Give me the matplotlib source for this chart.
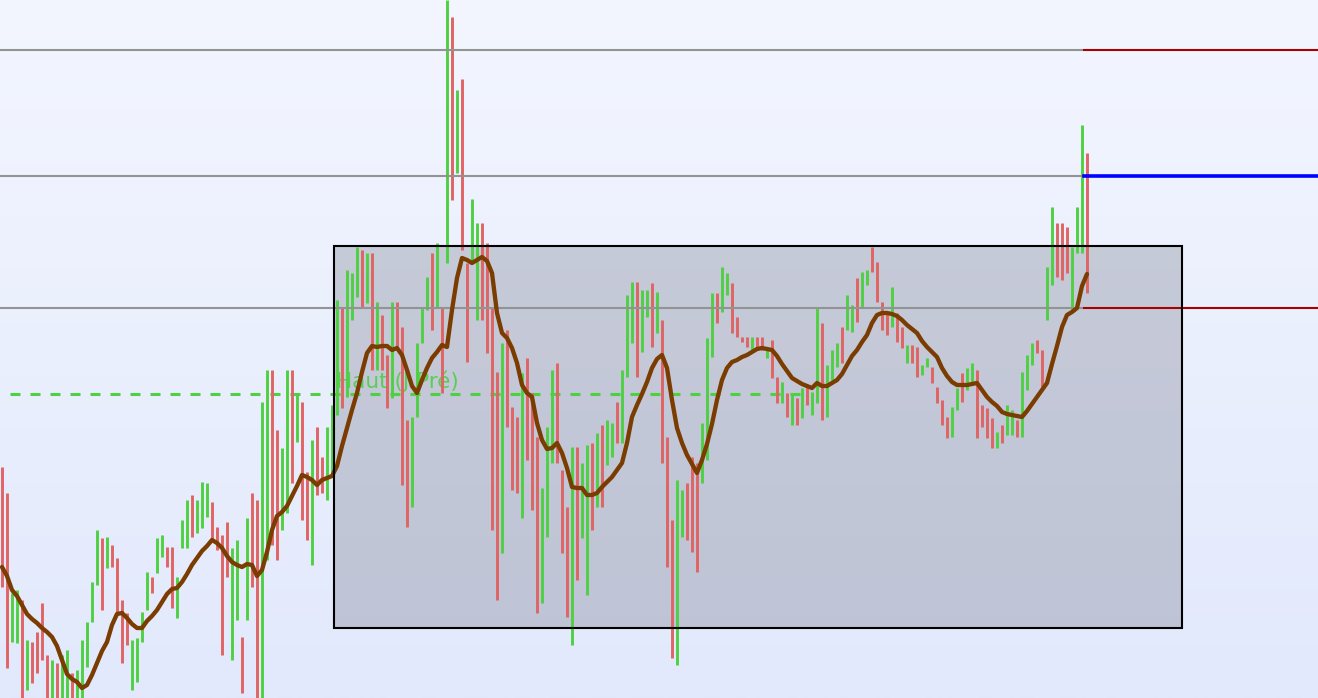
import numpy as np
import matplotlib
matplotlib.use("Agg")
import matplotlib.pyplot as plt
from matplotlib.patches import Rectangle

plt.rcParams['lines.scale_dashes'] = False

# ---- data (price units, candle index on x) ----
highs = [231, 205, 105, 108, 98, 58, 56, 66, 95, 43,
         38, 35, 43, 48, 25, 28, 58, 76, 116, 168,
         160, 161, 153, 140, 98, 85, 58, 60, 86, 126,
         121, 160, 163, 151, 151, 121, 178, 198, 203, 198,
         216, 215, 196, 171, 163, 176, 150, 158, 61, 180,
         205, 198, 296, 328, 328, 268, 250, 328, 328, 303,
         296, 226, 258, 271, 241, 271, 293, 398, 390, 428,
         425, 451, 448, 445, 445, 396, 383, 343, 396, 396,
         371, 278, 281, 355, 391, 421, 445, 455, 391, 698,
         681, 608, 619, 435, 499, 475, 475, 455, 391, 326,
         355, 368, 291, 281, 325, 340, 305, 261, 210, 271,
         328, 335, 228, 191, 251, 251, 235, 253, 255, 265,
         273, 278, 275, 296, 328, 403, 416, 416, 408, 408,
         415, 406, 378, 261, 178, 218, 208, 215, 241, 235,
         275, 360, 405, 405, 431, 425, 415, 381, 361, 361,
         361, 361, 361, 350, 358, 321, 316, 305, 303, 300,
         310, 313, 306, 391, 375, 333, 348, 355, 371, 403,
         393, 420, 426, 428, 451, 436, 396, 385, 411, 385,
         371, 353, 353, 351, 333, 340, 331, 311, 298, 281,
         291, 310, 325, 330, 335, 328, 293, 290, 280, 266,
         273, 293, 288, 278, 326, 343, 355, 358, 348, 431,
         491, 475, 475, 471, 451, 491, 573, 545]

lows = [111, 30, 56, 55, 0, 8, 15, 25, 38, 0,
        0, 0, 0, 0, 0, 0, 0, 31, 76, 113,
        88, 130, 131, 85, 35, 53, 8, 16, 56, 88,
        105, 125, 141, 131, 90, 80, 150, 150, 161, 165,
        170, 181, 158, 148, 43, 121, 38, 78, 5, 78,
        111, 0, 0, 138, 153, 138, 168, 185, 215, 256,
        178, 158, 133, 203, 205, 198, 223, 283, 290, 301,
        378, 401, 391, 395, 328, 328, 328, 290, 300, 348,
        213, 171, 191, 281, 355, 388, 368, 391, 305, 435,
        498, 525, 448, 336, 435, 378, 378, 345, 168, 98,
        145, 271, 208, 205, 180, 238, 188, 85, 95, 161,
        235, 235, 145, 81, 53, 118, 160, 103, 168, 191,
        191, 233, 241, 255, 255, 321, 355, 321, 346, 381,
        351, 365, 235, 131, 40, 33, 161, 158, 146, 126,
        215, 238, 341, 375, 386, 403, 365, 361, 356, 351,
        348, 348, 348, 340, 320, 295, 295, 281, 273, 273,
        280, 293, 283, 295, 278, 281, 318, 331, 335, 368,
        366, 376, 391, 413, 426, 396, 368, 363, 371, 356,
        350, 335, 335, 321, 323, 331, 315, 295, 273, 260,
        261, 288, 296, 308, 315, 260, 271, 260, 250, 250,
        255, 263, 263, 261, 261, 308, 333, 345, 311, 378,
        413, 421, 418, 425, 386, 445, 445, 405]

direction = ("rrggrgrrrr" "grggrggggg" "rgrrrrgggg" "rggrrgggrg" "ggrrrrggrg"
             "rrggrrggrg" "rrgrrgggrg" "ggrgrgrrgr" "rrggggrgrg" "rgrrggrrrr"
             "grrrgrrrgg" "grrrgrggrg" "rggrgggrgg" "rgrrrggrrr" "gggrggrrrr"
             "grrgrrgrgr" "grggrgggrg" "grggrrrrgr" "rgrrggrrrr" "ggrggrrrrg"
             "rggrgggrrg" "grrrgggr")

ma = [131, 122, 108, 102, 93, 84, 79, 75, 70, 66,
      61, 52, 38, 24, 19, 16, 10, 13, 23, 35,
      47, 56, 73, 84, 85, 80, 74, 70, 70, 77,
      82, 88, 96, 104, 109, 110, 116, 124, 133, 140,
      147, 152, 158, 155, 150, 142, 136, 133, 131, 134,
      133, 122, 128, 146, 168, 182, 186, 192, 202, 212,
      223, 221, 218, 213, 218, 220, 222, 232, 252, 270,
      288, 305, 326, 345, 352, 351, 352, 352, 348, 350,
      343, 328, 312, 305, 318, 330, 340, 346, 353, 351,
      388, 420, 440, 438, 435, 438, 441, 437, 425, 385,
      365, 360, 350, 335, 313, 305, 301, 275, 258, 249,
      250, 255, 245, 230, 211, 210, 210, 203, 203, 205,
      211, 216, 221, 228, 235, 255, 281, 293, 304, 316,
      330, 339, 343, 330, 298, 270, 255, 243, 234, 225,
      238, 254, 274, 298, 318, 330, 336, 338, 341, 343,
      346, 349, 350, 349, 348, 342, 334, 327, 320, 317,
      314, 312, 310, 315, 312, 312, 315, 318, 324, 333,
      342, 348, 356, 363, 375, 383, 385, 385, 384, 382,
      378, 373, 369, 365, 357, 351, 346, 341, 330, 322,
      316, 313, 313, 313, 314, 315, 308, 301, 296, 292,
      286, 284, 283, 282, 281, 287, 294, 301, 308, 315,
      334, 352, 371, 383, 386, 390, 412, 424]

levels = [648, 522, 390]
level_colors = ['#aa0000', '#0000ff', '#aa0000']
level_widths = [1.5, 2.6, 1.5]

prev_high = 304
prev_high_label = "Haut (J Pré)"

zone_low, zone_high = 70, 452
zone_start, zone_end = 66.4, 236.0

# ---- figure ----
W, H = 1318, 698
fig = plt.figure(figsize=(W / 100, H / 100), dpi=100)
ax = fig.add_axes([0, 0, 1, 1])
x = np.arange(len(highs))
xmin, xmax = -0.4, 263.2
ymin, ymax = 0, 698
ax.set_xlim(xmin, xmax)
ax.set_ylim(ymin, ymax)
ax.axis('off')

# background gradient
top = np.array([243, 246, 255]) / 255
bot = np.array([226, 233, 252]) / 255
t = np.linspace(0, 1, 256)[:, None]
grad = (top[None, :] * (1 - t) + bot[None, :] * t)[:, None, :]
ax.imshow(grad, extent=[xmin, xmax, ymin, ymax], aspect='auto', zorder=0,
          interpolation='bilinear')

# zone rectangle
ax.add_patch(Rectangle((zone_start, zone_low), zone_end - zone_start,
                       zone_high - zone_low, facecolor=(75/255, 78/255, 95/255),
                       alpha=0.24, edgecolor='none', zorder=1))
ax.add_patch(Rectangle((zone_start, zone_low), zone_end - zone_start,
                       zone_high - zone_low, facecolor='none',
                       edgecolor='black', linewidth=1.5, zorder=6))

# previous high dashed line + label
ax.plot([1.6, 159.6], [prev_high, prev_high], color='#4fd043', lw=2.2,
        ls=(0, (7.2, 7.2)), zorder=2)
ax.text(66.8, 310, prev_high_label, color='#4fcf45', alpha=0.9,
        fontsize=15.5, family='DejaVu Sans', va='baseline', ha='left', zorder=2)

# candles
cols = ['#4fd043' if d == 'g' else '#e06464' for d in direction]
ax.vlines(x, lows, highs, colors=cols, linewidth=2.1, zorder=3)

# levels
split = len(highs) - 1.6
for lv, c, w in zip(levels, level_colors, level_widths):
    ax.plot([xmin, split - 0.4], [lv, lv], color='#939393', lw=1.5, zorder=4)
    ax.plot([split, xmax], [lv, lv], color=c, lw=w, zorder=4)

# moving average
ax.plot(x, ma, color='#7a3c00', lw=3.1, zorder=5, solid_capstyle='round',
        solid_joinstyle='round')

fig.savefig('out.png', dpi=100)
